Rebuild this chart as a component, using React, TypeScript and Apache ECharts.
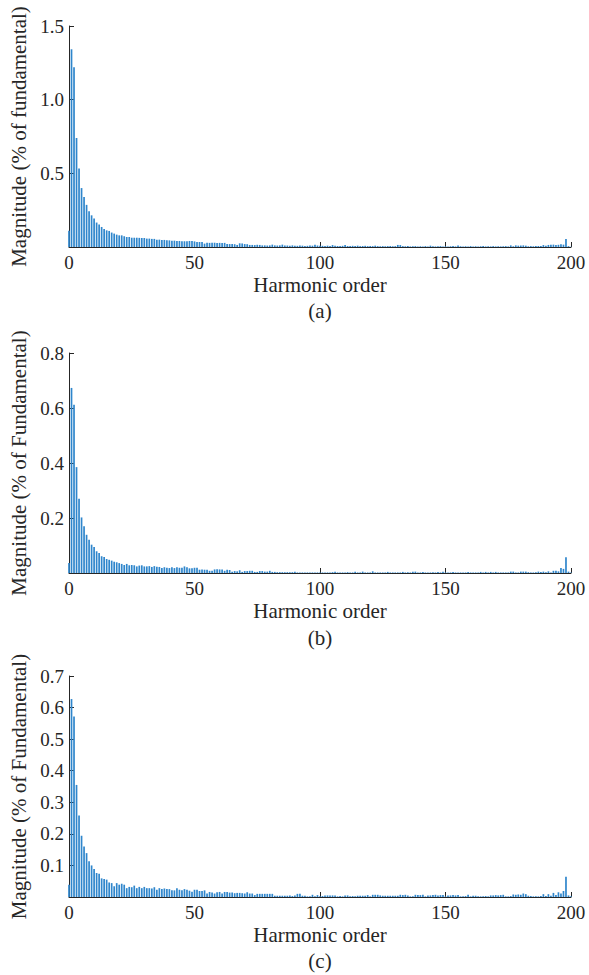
import React, { useEffect, useRef } from "react";
import * as echarts from "echarts";

// Harmonic magnitudes (% of fundamental), harmonic order 0..200
const magnitudeA = [
  0.11, 1.342, 1.22, 0.74, 0.533, 0.40, 0.34, 0.286, 0.243, 0.215,
  0.193, 0.166, 0.152, 0.136, 0.122, 0.113, 0.109, 0.098, 0.091, 0.084,
  0.079, 0.079, 0.073, 0.068, 0.068, 0.063, 0.063, 0.063, 0.062, 0.061,
  0.061, 0.057, 0.057, 0.055, 0.055, 0.050, 0.050, 0.048, 0.048, 0.045,
  0.045, 0.043, 0.043, 0.041, 0.041, 0.039, 0.039, 0.039, 0.041, 0.041,
  0.038, 0.034, 0.034, 0.034, 0.023, 0.029, 0.028, 0.028, 0.029, 0.027,
  0.028, 0.027, 0.028, 0.020, 0.020, 0.021, 0.019, 0.014, 0.025, 0.024,
  0.020, 0.019, 0.014, 0.014, 0.013, 0.015, 0.014, 0.011, 0.011, 0.010,
  0.011, 0.016, 0.011, 0.010, 0.011, 0.016, 0.011, 0.010, 0.009, 0.011,
  0.009, 0.008, 0.011, 0.009, 0.007, 0.008, 0.010, 0.009, 0.016, 0.010,
  0.009, 0.008, 0.007, 0.009, 0.007, 0.013, 0.008, 0.007, 0.006, 0.008,
  0.013, 0.007, 0.006, 0.008, 0.007, 0.009, 0.006, 0.007, 0.008, 0.006,
  0.007, 0.006, 0.009, 0.006, 0.005, 0.006, 0.005, 0.006, 0.007, 0.005,
  0.006, 0.014, 0.013, 0.006, 0.005, 0.006, 0.004, 0.005, 0.006, 0.004,
  0.005, 0.004, 0.006, 0.004, 0.009, 0.005, 0.004, 0.005, 0.006, 0.004,
  0.005, 0.004, 0.005, 0.006, 0.004, 0.011, 0.005, 0.004, 0.005, 0.004,
  0.006, 0.004, 0.005, 0.004, 0.005, 0.006, 0.004, 0.005, 0.004, 0.006,
  0.004, 0.005, 0.004, 0.005, 0.006, 0.004, 0.011, 0.005, 0.011, 0.009,
  0.010, 0.011, 0.009, 0.005, 0.006, 0.005, 0.006, 0.007, 0.006, 0.013,
  0.008, 0.014, 0.015, 0.016, 0.014, 0.015, 0.018, 0.016, 0.054, 0.006,
  0.002,
];

const magnitudeB = [
  0.036, 0.673, 0.612, 0.385, 0.270, 0.202, 0.170, 0.139, 0.121, 0.103,
  0.095, 0.079, 0.073, 0.061, 0.058, 0.051, 0.048, 0.045, 0.041, 0.039,
  0.036, 0.033, 0.029, 0.033, 0.028, 0.029, 0.028, 0.024, 0.027, 0.028,
  0.024, 0.024, 0.025, 0.022, 0.025, 0.023, 0.022, 0.018, 0.021, 0.019,
  0.018, 0.021, 0.018, 0.021, 0.019, 0.019, 0.024, 0.021, 0.017, 0.017,
  0.019, 0.019, 0.012, 0.013, 0.012, 0.012, 0.008, 0.008, 0.013, 0.014,
  0.013, 0.013, 0.008, 0.012, 0.011, 0.005, 0.007, 0.006, 0.010, 0.004,
  0.007, 0.007, 0.008, 0.008, 0.004, 0.004, 0.007, 0.007, 0.005, 0.005,
  0.008, 0.004, 0.004, 0.003, 0.003, 0.003, 0.003, 0.003, 0.003, 0.003,
  0.005, 0.002, 0.002, 0.002, 0.002, 0.002, 0.002, 0.002, 0.002, 0.002,
  0.002, 0.002, 0.002, 0.002, 0.002, 0.003, 0.005, 0.002, 0.002, 0.002,
  0.002, 0.003, 0.002, 0.002, 0.005, 0.002, 0.002, 0.005, 0.002, 0.002,
  0.002, 0.006, 0.002, 0.002, 0.002, 0.002, 0.002, 0.004, 0.002, 0.002,
  0.002, 0.002, 0.002, 0.004, 0.002, 0.003, 0.002, 0.005, 0.005, 0.002,
  0.002, 0.004, 0.002, 0.002, 0.002, 0.003, 0.002, 0.004, 0.002, 0.005,
  0.002, 0.002, 0.002, 0.004, 0.002, 0.002, 0.002, 0.002, 0.002, 0.004,
  0.002, 0.002, 0.002, 0.002, 0.004, 0.002, 0.004, 0.002, 0.004, 0.002,
  0.004, 0.002, 0.002, 0.002, 0.002, 0.002, 0.005, 0.005, 0.002, 0.002,
  0.005, 0.005, 0.005, 0.003, 0.002, 0.002, 0.003, 0.005, 0.004, 0.005,
  0.003, 0.006, 0.002, 0.008, 0.008, 0.006, 0.018, 0.015, 0.057, 0.005,
  0.002,
];

const magnitudeC = [
  0.039, 0.627, 0.572, 0.355, 0.258, 0.194, 0.160, 0.139, 0.113, 0.100,
  0.089, 0.076, 0.074, 0.059, 0.057, 0.055, 0.046, 0.044, 0.034, 0.044,
  0.039, 0.042, 0.039, 0.028, 0.032, 0.031, 0.036, 0.028, 0.032, 0.028,
  0.032, 0.028, 0.028, 0.027, 0.031, 0.023, 0.028, 0.025, 0.027, 0.025,
  0.025, 0.021, 0.021, 0.028, 0.023, 0.021, 0.025, 0.023, 0.020, 0.017,
  0.023, 0.023, 0.019, 0.019, 0.021, 0.011, 0.016, 0.014, 0.011, 0.015,
  0.016, 0.011, 0.016, 0.016, 0.014, 0.014, 0.012, 0.013, 0.013, 0.012,
  0.011, 0.015, 0.011, 0.011, 0.006, 0.010, 0.010, 0.010, 0.010, 0.010,
  0.010, 0.010, 0.004, 0.004, 0.004, 0.004, 0.004, 0.004, 0.005, 0.003,
  0.005, 0.010, 0.010, 0.004, 0.004, 0.002, 0.002, 0.007, 0.002, 0.006,
  0.002, 0.003, 0.005, 0.005, 0.005, 0.005, 0.005, 0.002, 0.003, 0.002,
  0.005, 0.005, 0.002, 0.003, 0.002, 0.004, 0.004, 0.004, 0.004, 0.006,
  0.002, 0.007, 0.007, 0.007, 0.005, 0.004, 0.004, 0.004, 0.004, 0.004,
  0.004, 0.004, 0.007, 0.006, 0.007, 0.005, 0.002, 0.002, 0.007, 0.006,
  0.006, 0.007, 0.002, 0.005, 0.005, 0.006, 0.007, 0.005, 0.006, 0.006,
  0.002, 0.005, 0.005, 0.006, 0.005, 0.006, 0.002, 0.002, 0.003, 0.007,
  0.002, 0.004, 0.004, 0.002, 0.002, 0.002, 0.003, 0.002, 0.005, 0.005,
  0.006, 0.005, 0.006, 0.007, 0.002, 0.002, 0.003, 0.008, 0.007, 0.008,
  0.007, 0.011, 0.009, 0.004, 0.003, 0.002, 0.002, 0.002, 0.003, 0.009,
  0.003, 0.009, 0.004, 0.013, 0.006, 0.015, 0.011, 0.019, 0.064, 0.005,
  0.002,
];

const xTicks = [0, 50, 100, 150, 200];
const yMaxes = [1.5, 0.8, 0.7];
const yIntervals = [0.5, 0.2, 0.1];
const yNames = [
  "Magnitude (% of fundamental)",
  "Magnitude (% of Fundamental)",
  "Magnitude (% of Fundamental)",
];
const xName = "Harmonic order";
const captions = ["(a)", "(b)", "(c)"];

const FONT = "'Liberation Serif', 'Times New Roman', serif";
const INK = "#262626";
const BAR = "#2f86cc";

const grids = [
  { left: 69, top: 26, width: 502, height: 221 },
  { left: 69, top: 353, width: 502, height: 220 },
  { left: 69, top: 676, width: 502, height: 221 },
];
const captionY = [311, 638, 961];

export default function App() {
  const ref = useRef<HTMLDivElement>(null);
  useEffect(() => {
    if (!ref.current) return;
    const chart = echarts.init(ref.current, undefined, { renderer: "svg" });
    const datasets = [magnitudeA, magnitudeB, magnitudeC];
    const option: any = {
      animation: false,
      backgroundColor: "#ffffff",
      grid: grids.map((g) => ({ ...g, containLabel: false })),
      xAxis: grids.map((_, i) => ({
        type: "value",
        gridIndex: i,
        min: xTicks[0],
        max: xTicks[xTicks.length - 1],
        interval: 50,
        name: xName,
        nameLocation: "middle",
        nameGap: 27,
        nameTextStyle: { fontFamily: FONT, fontSize: 21, color: INK },
        axisLine: { show: true, onZero: false, lineStyle: { color: INK, width: 1 } },
        axisTick: { show: true, inside: true, length: 5, lineStyle: { color: INK } },
        axisLabel: { fontFamily: FONT, fontSize: 19, color: INK, margin: 6 },
        splitLine: { show: false },
      })),
      yAxis: grids.map((_, i) => ({
        type: "value",
        gridIndex: i,
        min: 0,
        max: yMaxes[i],
        interval: yIntervals[i],
        name: yNames[i],
        nameLocation: "middle",
        nameGap: 35,
        nameTextStyle: { fontFamily: FONT, fontSize: 21, color: INK },
        axisLine: { show: true, lineStyle: { color: INK, width: 1 } },
        axisTick: { show: true, inside: true, length: 5, lineStyle: { color: INK } },
        axisLabel: {
          fontFamily: FONT,
          fontSize: 19,
          color: INK,
          margin: 5,
          formatter: (v: number) => (v === 0 ? "" : v.toFixed(1)),
        },
        splitLine: { show: false },
      })),
      series: datasets.map((arr, i) => ({
        type: "bar",
        xAxisIndex: i,
        yAxisIndex: i,
        barWidth: 1.7,
        itemStyle: { color: BAR },
        data: arr.map((v, h) => [h, v]),
      })),
      graphic: captions.map((c, i) => ({
        type: "text",
        x: grids[i].left + grids[i].width / 2,
        y: captionY[i],
        style: {
          text: c,
          fontFamily: FONT,
          fontSize: 21,
          fill: INK,
          textAlign: "center",
          textVerticalAlign: "middle",
        },
      })),
    };
    chart.setOption(option);
    return () => chart.dispose();
  }, []);
  return (
    <div
      ref={ref}
      style={{ position: "fixed", left: 0, top: 0, width: 589, height: 975, background: "#fff" }}
    />
  );
}
